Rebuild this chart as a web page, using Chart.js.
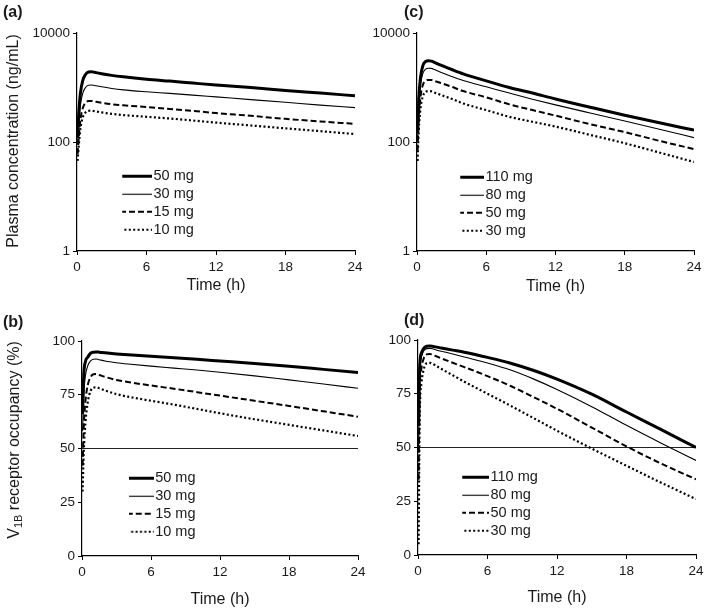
<!DOCTYPE html>
<html>
<head>
<meta charset="utf-8">
<script src="https://cdn.jsdelivr.net/npm/chart.js@4.4.1/dist/chart.umd.min.js"></script>
<style>
  body { margin: 0; background: #fff; }
  #fig { position: relative; width: 709px; height: 612px; overflow: hidden;
         font-family: "Liberation Sans", Arial, sans-serif; color: #1a1a1a; }
  #fig canvas { position: absolute; }
  .tag { position: absolute; font-weight: bold; font-size: 16px; line-height: 1; }
  .ytitle { position: absolute; font-size: 16px; line-height: 1; white-space: nowrap;
            transform: translate(-50%, -50%) rotate(-90deg); }
  .ytitle sub { font-size: 11px; vertical-align: -3px; }
</style>
</head>
<body>
<div id="fig">
  <canvas id="chartA" width="372" height="300" style="left:0;top:0"></canvas>
  <canvas id="chartC" width="354" height="300" style="left:355px;top:0"></canvas>
  <canvas id="chartB" width="372" height="312" style="left:0;top:300px"></canvas>
  <canvas id="chartD" width="354" height="312" style="left:355px;top:300px"></canvas>
  <div class="tag" style="left:3px;top:4px">(a)</div>
  <div class="tag" style="left:404px;top:4px">(c)</div>
  <div class="tag" style="left:3px;top:314px">(b)</div>
  <div class="tag" style="left:404px;top:312px">(d)</div>
  <div class="ytitle" style="left:12.5px;top:141px">Plasma concentration (ng/mL)</div>
  <div class="ytitle" style="left:14.5px;top:440px">V<sub>1B</sub> receptor occupancy (%)</div>
</div>
<script>
// Tiempos de muestreo (h) y ticks
const hours = [0.05, 0.15, 0.3, 0.5, 0.75, 1, 1.25, 1.5, 2, 3, 4, 6, 8, 10, 12, 15, 18, 21, 24];
const timeTicks = [0, 6, 12, 18, 24];
const concTicks = [1, 100, 10000];
const occTicks = [0, 25, 50, 75, 100];
const occThreshold = 50;

// (a) concentración plasmática, dosis bajas
const dosesLow = ['50 mg', '30 mg', '15 mg', '10 mg'];
const concA50 = [120, 330, 800, 1350, 1750, 1920, 1940, 1900, 1810, 1670, 1570, 1420, 1310, 1205, 1110, 995, 880, 790, 705];
const concA30 = [90, 210, 480, 790, 1010, 1100, 1110, 1090, 1040, 960, 905, 835, 780, 725, 672, 600, 535, 475, 427];
const concA15 = [60, 120, 260, 420, 530, 565, 568, 555, 530, 492, 470, 438, 405, 372, 340, 302, 266, 238, 215];
const concA10 = [45, 85, 180, 285, 350, 373, 375, 368, 352, 328, 312, 290, 270, 248, 227, 201, 178, 158, 140];

// (c) concentración plasmática, dosis altas
const dosesHigh = ['110 mg', '80 mg', '50 mg', '30 mg'];
const concC110 = [150, 600, 1500, 2500, 3000, 3100, 3050, 2900, 2600, 2140, 1780, 1320, 1000, 790, 615, 435, 310, 225, 165];
const concC80 = [110, 430, 1100, 1800, 2180, 2260, 2240, 2140, 1920, 1590, 1340, 1030, 790, 610, 480, 340, 242, 172, 120];
const concC50 = [70, 260, 660, 1100, 1330, 1380, 1370, 1320, 1220, 1030, 860, 660, 490, 385, 305, 212, 152, 105, 74];
const concC30 = [45, 160, 410, 680, 830, 860, 850, 810, 740, 620, 510, 385, 290, 235, 192, 135, 95, 64, 43];

// (b) ocupación del receptor V1B, dosis bajas
const occB50 = [66, 84, 90.5, 92.5, 94.3, 94.8, 94.9, 94.8, 94.5, 94.0, 93.6, 92.9, 92.2, 91.5, 90.7, 89.5, 88.2, 86.8, 85.4];
const occB30 = [58, 75, 84, 88.5, 90.8, 91.5, 91.6, 91.3, 90.7, 89.9, 89.3, 88.3, 87.4, 86.5, 85.5, 83.8, 81.9, 80, 78];
const occB15 = [42, 60, 72, 79.5, 83.2, 84.5, 84.6, 84.2, 83.3, 81.9, 80.9, 79.3, 77.8, 76.2, 74.6, 72.2, 69.8, 67.3, 64.8];
const occB10 = [30, 48, 62, 71.5, 76.8, 78.3, 78.5, 78, 77, 75.3, 74.1, 72.2, 70.4, 68.4, 66.4, 63.6, 61, 58.4, 55.8];

// (d) ocupación del receptor V1B, dosis altas
const occD110 = [60, 88, 94, 96.2, 97.1, 97.2, 97.1, 96.8, 96.3, 95.3, 94.3, 91.9, 89.2, 85.8, 81.8, 74.8, 66.5, 58.3, 50];
const occD80 = [50, 84, 92, 95, 96, 96.1, 95.9, 95.5, 94.8, 93.5, 92.1, 89.3, 86, 81.8, 77, 69, 60.3, 52, 44];
const occD50 = [35, 76, 87, 91.5, 93.3, 93.5, 93.2, 92.6, 91.5, 89.4, 87.4, 83.2, 78.6, 73.4, 68, 59.3, 50.5, 42.5, 35.2];
const occD30 = [5, 65, 80, 86.5, 89.2, 89.4, 89, 88.2, 86.6, 83.6, 80.6, 75, 69.4, 63.6, 57.8, 49.5, 41.5, 33.6, 26];

const ink = '#1a1a1a';
const fontFam = '"Liberation Sans", Arial, sans-serif';
const legendFont = 14.5;
const legendPad = 3.5;
const swatchOverhang = 5.75; // la muestra sobresale del hueco de la leyenda para pegar el texto

// grosor / trazo de cada serie, en orden de dosis
const lineStyles = [
    { w: 3, dash: [] },
    { w: 1.1, dash: [] },
    { w: 2, dash: [6, 3] },
    { w: 2.2, dash: [2, 2.4] }
];

// Muestra de línea para la leyenda (el modo pointStyle no aplica el borderDash)
function muestraLinea(style, len) {
    const c = document.createElement('canvas');
    c.width = len;
    c.height = 6;
    const g = c.getContext('2d');
    const yMid = Math.round(style.w) % 2 ? 3.5 : 3;
    g.strokeStyle = '#000';
    g.lineWidth = style.w;
    g.setLineDash(style.dash);
    g.beginPath();
    g.moveTo(0, yMid);
    g.lineTo(len, yMid);
    g.stroke();
    return c;
}

// Mueve la leyenda dentro del área del gráfico
const legendInside = {
    id: 'legendInside',
    afterLayout(chart, args, opts) {
        const lg = chart.legend;
        if (!lg) return;
        const h = lg.height;
        lg.left = chart.chartArea.left + opts.x + swatchOverhang - legendPad;
        lg.top = chart.chartArea.top + opts.y - legendPad - legendFont / 2;
        lg.right = lg.left + 150;
        lg.bottom = lg.top + h;
    }
};

function axisCommon() {
    return {
        ticks: { font: { size: 13.5, family: fontFam }, color: ink, padding: 3, autoSkip: false, maxRotation: 0 },
        grid: { display: true, drawOnChartArea: false, drawTicks: true, tickLength: 4, color: '#000', lineWidth: 1 },
        border: { display: true, color: '#000', width: 1.2 }
    };
}

function crearPanel(canvasId, box, doses, series, yType, legendAt) {
    const datasets = series.map((vals, i) => ({
        label: doses[i],
        data: hours.map((h, k) => ({ x: h, y: vals[k] })),
        borderColor: '#000',
        borderWidth: lineStyles[i].w,
        borderDash: lineStyles[i].dash,
        pointRadius: 0,
        pointStyle: muestraLinea(lineStyles[i], legendAt.len),
        cubicInterpolationMode: 'monotone',
        fill: false
    }));

    let yScale;
    if (yType === 'log') {
        yScale = Object.assign(axisCommon(), {
            type: 'logarithmic', min: concTicks[0], max: concTicks[concTicks.length - 1],
            afterBuildTicks: s => { s.ticks = concTicks.map(v => ({ value: v })); },
            afterFit: s => { s.width = box.left; }
        });
    } else {
        datasets.push({
            label: '',
            data: [{ x: timeTicks[0], y: occThreshold }, { x: timeTicks[timeTicks.length - 1], y: occThreshold }],
            borderColor: '#222', borderWidth: 1, pointRadius: 0
        });
        yScale = Object.assign(axisCommon(), {
            type: 'linear', min: occTicks[0], max: occTicks[occTicks.length - 1],
            afterBuildTicks: s => { s.ticks = occTicks.map(v => ({ value: v })); },
            afterFit: s => { s.width = box.left; }
        });
    }
    yScale.ticks.callback = v => String(v);

    const xScale = Object.assign(axisCommon(), {
        type: 'linear', min: timeTicks[0], max: timeTicks[timeTicks.length - 1],
        afterBuildTicks: s => { s.ticks = timeTicks.map(v => ({ value: v })); },
        afterFit: s => { s.height = box.xh; },
        title: { display: true, text: 'Time (h)', color: ink, font: { size: 16, family: fontFam }, padding: { top: 0, bottom: box.tpad } }
    });
    xScale.ticks.padding = 4;

    return new Chart(document.getElementById(canvasId), {
        type: 'line',
        data: { datasets: datasets },
        plugins: [legendInside],
        options: {
            responsive: false,
            animation: false,
            devicePixelRatio: 1,
            layout: { padding: { top: box.top, right: box.right, bottom: 0, left: 0 } },
            plugins: {
                tooltip: { enabled: false },
                legend: {
                    position: 'chartArea',
                    align: 'start',
                    labels: {
                        usePointStyle: true,
                        pointStyleWidth: legendAt.len - 2 * swatchOverhang,
                        padding: legendPad,
                        color: ink,
                        font: { size: legendFont, family: fontFam },
                        filter: item => item.text !== ''
                    }
                },
                legendInside: legendAt
            },
            scales: { x: xScale, y: yScale }
        }
    });
}

crearPanel('chartA', { left: 77, top: 33, right: 17, xh: 49, tpad: 5 },
    dosesLow, [concA50, concA30, concA15, concA10], 'log', { x: 43, y: 142.7, len: 32 });
crearPanel('chartC', { left: 62, top: 33, right: 15, xh: 49, tpad: 4 },
    dosesHigh, [concC110, concC80, concC50, concC30], 'log', { x: 41, y: 143.7, len: 26 });
crearPanel('chartB', { left: 82, top: 41, right: 14, xh: 56, tpad: 3 },
    dosesLow, [occB50, occB30, occB15, occB10], 'lin', { x: 44.7, y: 136.7, len: 27 });
crearPanel('chartD', { left: 63, top: 40, right: 13, xh: 57, tpad: 5 },
    dosesHigh, [occD110, occD80, occD50, occD30], 'lin', { x: 42, y: 136.7, len: 29 });
</script>
</body>
</html>
